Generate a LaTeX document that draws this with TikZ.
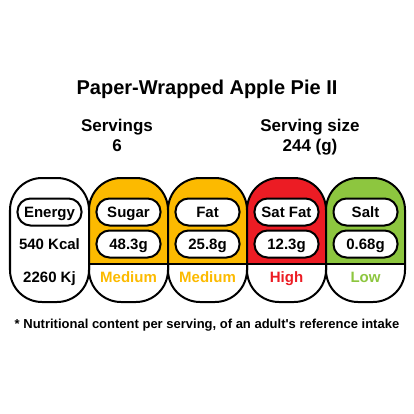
\documentclass[tikz,border=0pt]{standalone}
\usepackage{fontspec}
\setmainfont{Liberation Sans}
\usepackage{xcolor}
\definecolor{medium}{RGB}{252,186,0}
\definecolor{high}{RGB}{236,28,36}
\definecolor{low}{RGB}{141,198,63}

\begin{document}
\begin{tikzpicture}[x=1bp, y=-1bp, line width=2bp,
    big/.style={font=\fontsize{20bp}{24bp}\selectfont\bfseries},
    mid/.style={font=\fontsize{17bp}{20bp}\selectfont\bfseries},
    txt/.style={font=\fontsize{15bp}{18bp}\selectfont\bfseries, text height=10.7bp, text depth=0pt, inner sep=0pt},
    pill/.style={txt, draw, fill=white, rounded corners=13bp, minimum width=64bp, minimum height=27bp},
    small/.style={font=\fontsize{13bp}{16bp}\selectfont\bfseries}]
    \useasboundingbox (0,0) rectangle (414,414);

    \node[big, anchor=base] (title) at (207,94) {Paper-Wrapped Apple Pie II};
    \node[mid, anchor=base] (servings) at (117,131) {Servings};
    \node[mid, anchor=base] (servingsval) at (117,151) {6};
    \node[mid, anchor=base] (size) at (310,131) {Serving size};
    \node[mid, anchor=base] (sizeval) at (310,151) {244 (g)};

    % energy
    \draw[fill=white, rounded corners=32bp] (10,178) rectangle (89,302);

    % sugar
    \begin{scope}
        \clip[rounded corners=32bp] (89,178) rectangle (168,302);
        \fill[medium] (89,178) rectangle (168,264);
    \end{scope}
    \draw[rounded corners=32bp] (89,178) rectangle (168,302);
    \draw (89,264) -- (168,264);

    % fat
    \begin{scope}
        \clip[rounded corners=32bp] (168,178) rectangle (247,302);
        \fill[medium] (168,178) rectangle (247,264);
    \end{scope}
    \draw[rounded corners=32bp] (168,178) rectangle (247,302);
    \draw (168,264) -- (247,264);

    % sat fat
    \begin{scope}
        \clip[rounded corners=32bp] (247,178) rectangle (326,302);
        \fill[high] (247,178) rectangle (326,264);
    \end{scope}
    \draw[rounded corners=32bp] (247,178) rectangle (326,302);
    \draw (247,264) -- (326,264);

    % salt
    \begin{scope}
        \clip[rounded corners=32bp] (326,178) rectangle (405,302);
        \fill[low] (326,178) rectangle (405,264);
    \end{scope}
    \draw[rounded corners=32bp] (326,178) rectangle (405,302);
    \draw (326,264) -- (405,264);

    \node[pill] (energy) at (49.5,212) {Energy};
    \node[txt] (kcal) at (49.5,244) {540 Kcal};
    \node[txt] (kj) at (49.5,277) {2260 Kj};

    \node[pill] (sugar) at (128.5,212) {Sugar};
    \node[pill] (sugarval) at (128.5,244) {48.3g};
    \node[txt, text=medium] (sugarlvl) at (128.5,277) {Medium};

    \node[pill] (fat) at (207.5,212) {Fat};
    \node[pill] (fatval) at (207.5,244) {25.8g};
    \node[txt, text=medium] (fatlvl) at (207.5,277) {Medium};

    \node[pill] (satfat) at (286.5,212) {Sat Fat};
    \node[pill] (satfatval) at (286.5,244) {12.3g};
    \node[txt, text=high] (satfatlvl) at (286.5,277) {High};

    \node[pill] (salt) at (365.5,212) {Salt};
    \node[pill] (saltval) at (365.5,244) {0.68g};
    \node[txt, text=low] (saltlvl) at (365.5,277) {Low};

    \node[small, anchor=base] (note) at (207,328) {* Nutritional content per serving, of an adult\textquotesingle s reference intake};

\end{tikzpicture}
\end{document}
